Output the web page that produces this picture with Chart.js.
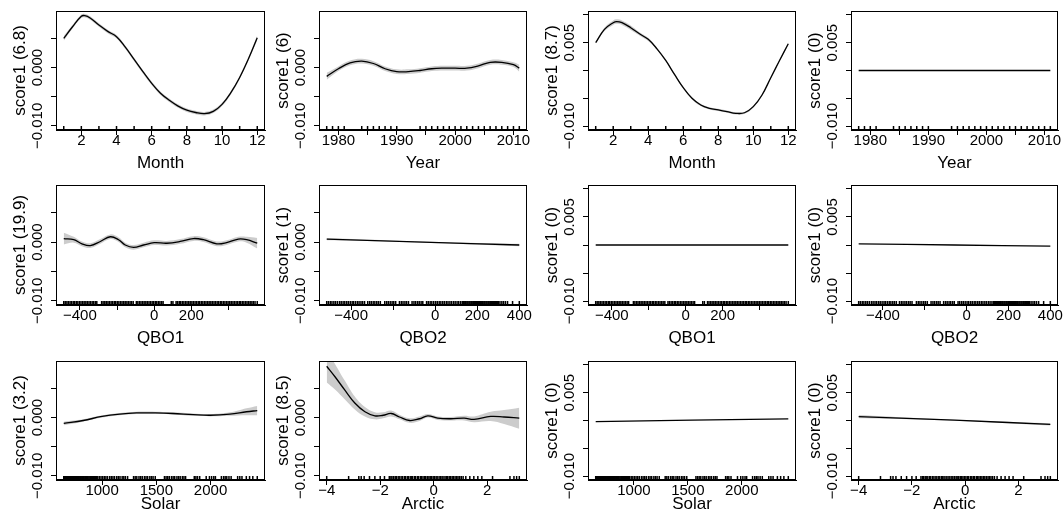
<!DOCTYPE html>
<html>
<head>
<meta charset="utf-8">
<script src="https://cdn.jsdelivr.net/npm/chart.js@4/dist/chart.umd.min.js"></script>
<style>
  html, body { margin: 0; padding: 0; background: #fff; overflow: hidden; width: 1064px; height: 521px; }
  .panel { position: absolute; }
</style>
</head>
<body>
<script>
// ---- data ----
const monthX = [1, 1.5, 2, 2.2, 2.5, 3, 3.5, 4, 4.5, 5, 5.5, 6, 6.5, 7, 7.5, 8, 8.5, 9, 9.5, 10, 10.5, 11, 11.5, 12];
const monthFitA = [0.0050, 0.0070, 0.0088, 0.0089, 0.0085, 0.0073, 0.0062, 0.0053, 0.0035, 0.0014, -0.0007, -0.0027, -0.0044, -0.0056, -0.0066, -0.0073, -0.0077, -0.0079, -0.0075, -0.0063, -0.0043, -0.0017, 0.0015, 0.0051];
const monthSeA = [0.0004, 0.0003, 0.0003, 0.0003, 0.0003, 0.0003, 0.0003, 0.0003, 0.0003, 0.0003, 0.0003, 0.0003, 0.0003, 0.0003, 0.0003, 0.0003, 0.0003, 0.0003, 0.0003, 0.0003, 0.0003, 0.0003, 0.0003, 0.0004];
const monthFitB = [0.0050, 0.0074, 0.0086, 0.0088, 0.0086, 0.0077, 0.0066, 0.0056, 0.0039, 0.0018, -0.0007, -0.0031, -0.0050, -0.0062, -0.0068, -0.0071, -0.0074, -0.0077, -0.0076, -0.0065, -0.0044, -0.0013, 0.0018, 0.0048];
const monthSeB = [0.0002, 0.0003, 0.0004, 0.0004, 0.0004, 0.0004, 0.0003, 0.0003, 0.0002, 0.0002, 0.0002, 0.0002, 0.0002, 0.0002, 0.0002, 0.0002, 0.0002, 0.0002, 0.0002, 0.0002, 0.0002, 0.0002, 0.0002, 0.0002];
const monthRug = [1, 2, 3, 4, 5, 6, 7, 8, 9, 10, 11, 12];

const yearX = [1978, 1980, 1982, 1984, 1986, 1988, 1990, 1992, 1994, 1996, 1998, 2000, 2002, 2004, 2006, 2008, 2010, 2011];
const yearFitA = [-0.0015, -0.0002, 0.0008, 0.0011, 0.0007, -0.0002, -0.0007, -0.0007, -0.0005, -0.0002, -0.0001, -0.0001, -0.0001, 0.0003, 0.0009, 0.0009, 0.0005, -0.0001];
const yearSeA = [0.0006, 0.0004, 0.0004, 0.0004, 0.0004, 0.0004, 0.0004, 0.0004, 0.0004, 0.0004, 0.0004, 0.0004, 0.0004, 0.0004, 0.0004, 0.0004, 0.0004, 0.0006];
const yearXB = [1978, 2011];
const yearFitB = [0, 0];
const yearRug = [1978, 1979, 1980, 1981, 1984, 1985, 1986, 1987, 1988, 1989, 1990, 1994, 1995, 1996, 1997, 1998, 1999, 2000, 2001, 2002, 2003, 2004, 2005, 2006, 2007, 2008, 2009, 2010, 2011];

const qbo1X = [-487, -433, -389, -344, -290, -236, -192, -156, -111, -57, 0, 68, 140, 211, 265, 337, 390, 453, 498, 555];
const qbo1FitA = [0.0006, 0.0004, -0.0003, -0.0006, 0.0001, 0.0009, 0.0004, -0.0005, -0.0009, -0.0005, -0.0001, -0.0002, 0.0001, 0.0006, 0.0004, -0.0003, -0.0001, 0.0005, 0.0004, -0.0002];
const qbo1SeA = [0.0010, 0.0005, 0.0004, 0.0004, 0.0004, 0.0004, 0.0004, 0.0004, 0.0004, 0.0004, 0.0004, 0.0004, 0.0004, 0.0004, 0.0004, 0.0004, 0.0004, 0.0004, 0.0005, 0.0009];
const qbo1XB = [-487, 555];
const qbo1FitB = [0, 0];
const qbo1Rug = [-487, -479, -470, -462, -453, -445, -436, -428, -419, -411, -402, -394, -385, -377, -368, -360, -351, -343, -334, -326, -317, -309, -283, -275, -266, -258, -249, -241, -232, -224, -215, -207, -198, -190, -181, -173, -164, -156, -147, -139, -130, -122, -113, -96, -88, -79, -71, -62, -54, -45, -37, -28, -20, -11, -3, 6, 14, 23, 31, 40, 48, 92, 101, 118, 126, 135, 143, 152, 160, 169, 177, 186, 194, 203, 211, 220, 228, 237, 245, 254, 262, 271, 279, 288, 296, 305, 313, 322, 330, 339, 347, 356, 364, 373, 381, 390, 398, 407, 415, 424, 432, 441, 449, 458, 466, 475, 483, 492, 500, 509, 517, 526, 534, 543, 555];

const qbo2X = [-516, -58, 400];
const qbo2FitA = [0.0005, 0.0000, -0.0005];
const qbo2SeA = [0.0002, 0.0001, 0.0002];
const qbo2FitB = [0.0002, 0.0000, -0.0002];
const qbo2Rug = [-516, -508, -499, -491, -482, -474, -465, -455, -447, -438, -430, -421, -413, -404, -395, -388, -379, -370, -362, -353, -345, -336, -321, -312, -304, -295, -287, -278, -270, -261, -240, -231, -223, -214, -205, -197, -188, -170, -161, -153, -144, -136, -127, -110, -101, -93, -84, -76, -67, -59, -41, -33, -24, -16, -7, 2, 10, 19, 27, 36, 44, 53, 61, 70, 78, 87, 95, 104, 112, 121, 129, 134, 138, 143, 147, 152, 156, 161, 165, 170, 174, 179, 183, 188, 192, 197, 201, 206, 210, 215, 219, 224, 228, 233, 237, 242, 246, 251, 255, 260, 264, 269, 273, 278, 282, 287, 291, 296, 300, 308, 317, 325, 334, 344, 368, 400];

const solarX = [646, 825, 1000, 1163, 1317, 1492, 1655, 1840, 2000, 2178, 2332, 2431];
const solarFitA = [-0.0010, -0.0005, 0.0002, 0.0006, 0.0008, 0.0008, 0.0007, 0.0005, 0.0004, 0.0006, 0.0010, 0.0012];
const solarSeA = [0.0003, 0.0002, 0.0002, 0.0002, 0.0002, 0.0002, 0.0002, 0.0002, 0.0002, 0.0003, 0.0006, 0.0008];
const solarXB = [646, 2431];
const solarFitB = [-0.0002, 0.0003];
const solarRug = [646, 652, 658, 664, 670, 676, 682, 688, 694, 700, 707, 713, 719, 725, 731, 737, 743, 749, 756, 762, 768, 775, 781, 787, 794, 800, 807, 813, 820, 827, 834, 841, 848, 856, 863, 871, 879, 887, 895, 903, 912, 921, 930, 940, 950, 960, 975, 990, 1005, 1020, 1035, 1050, 1070, 1085, 1100, 1115, 1135, 1150, 1165, 1185, 1200, 1215, 1235, 1290, 1305, 1320, 1340, 1355, 1370, 1390, 1405, 1420, 1440, 1455, 1470, 1490, 1575, 1590, 1605, 1620, 1640, 1655, 1670, 1690, 1705, 1720, 1740, 1755, 1770, 1850, 1865, 1880, 1900, 1960, 1990, 2010, 2030, 2045, 2100, 2120, 2135, 2150, 2170, 2190, 2250, 2270, 2290, 2330, 2360, 2390, 2431];

const arcticX = [-4.0, -3.69, -3.32, -2.95, -2.57, -2.2, -1.89, -1.59, -1.28, -0.9, -0.53, -0.22, 0.15, 0.64, 1.14, 1.51, 2.13, 2.63, 3.2];
const arcticFitA = [0.0088, 0.0070, 0.0047, 0.0025, 0.0010, 0.0003, 0.0004, 0.0007, 0.0001, -0.0005, -0.0002, 0.0003, -0.0001, -0.0002, -0.0001, -0.0003, 0.0002, 0.0001, -0.0001];
const arcticSeA = [0.0028, 0.0022, 0.0016, 0.0011, 0.0008, 0.0006, 0.0005, 0.0005, 0.0004, 0.0004, 0.0004, 0.0003, 0.0003, 0.0003, 0.0004, 0.0005, 0.0008, 0.0012, 0.0018];
const arcticXB = [-4.0, -0.4, 3.2];
const arcticFitB = [0.0007, 0.00005, -0.0007];
const arcticSeB = [0.0003, 0.0001, 0.0002];
const arcticRug = [-4.0, -3.18, -2.8, -2.71, -2.6, -2.4, -2.2, -2.0, -1.84, -1.66, -1.6, -1.56, -1.5, -1.44, -1.4, -1.33, -1.29, -1.22, -1.17, -1.1, -1.06, -0.99, -0.95, -0.88, -0.84, -0.79, -0.72, -0.68, -0.61, -0.57, -0.5, -0.46, -0.4, -0.34, -0.3, -0.24, -0.18, -0.13, -0.08, -0.02, 0.03, 0.09, 0.13, 0.2, 0.25, 0.31, 0.35, 0.42, 0.47, 0.52, 0.58, 0.63, 0.69, 0.74, 0.8, 0.86, 0.91, 0.97, 1.03, 1.1, 1.2, 1.35, 1.5, 1.65, 1.8, 2.2, 2.85, 3.0, 3.1, 3.2];

// axis ticks and which of them carry a label
const monthTicks = [2, 4, 6, 8, 10, 12];
const monthLabels = [2, 4, 6, 8, 10, 12];
const yearTicks = [1980, 1985, 1990, 1995, 2000, 2005, 2010];
const yearLabels = [1980, 1990, 2000, 2010];
const qboTicks = [-400, -200, 0, 200, 400];
const qbo1Labels = [-400, 0, 200];
const qbo2Labels = [-400, 0, 200, 400];
const solarTicks = [1000, 1500, 2000];
const solarLabels = [1000, 1500, 2000];
const arcticTicks = [-4, -2, 0, 2];
const arcticLabels = [-4, -2, 0, 2];

const yLimA = [-0.0107, 0.0097];
const yTicksA = [-0.010, -0.005, 0, 0.005];
const yLabelsA = [-0.010, 0];
const yLimB = [-0.0107, 0.0107];
const yTicksB = [-0.010, -0.005, 0, 0.005, 0.010];
const yLabelsB = [-0.010, 0.005];

const yTitles = ['score1 (6.8)', 'score1 (6)', 'score1 (8.7)', 'score1 (0)',
                 'score1 (19.9)', 'score1 (1)', 'score1 (0)', 'score1 (0)',
                 'score1 (3.2)', 'score1 (8.5)', 'score1 (0)', 'score1 (0)'];

// ---- layout ----
const boxLeft = [56, 319, 588, 851];
const boxRight = [265, 527, 796, 1058];
const boxTop = [11, 185, 361];
const boxBottom = [130, 305, 480];
const xAxisH = [44, 44, 35];
const Y_AXIS_W = 56, PAD_TOP = 11, PAD_RIGHT = 12;
const BAND = 'rgb(204,204,204)';

Chart.defaults.font.family = "'Liberation Sans', Arial, Helvetica, sans-serif";
Chart.defaults.color = '#000';

const panels = [
  { x: monthX, fit: monthFitA, se: monthSeA, rug: monthRug, ticks: monthTicks, labels: monthLabels, xTitle: 'Month', side: 'A' },
  { x: yearX, fit: yearFitA, se: yearSeA, rug: yearRug, ticks: yearTicks, labels: yearLabels, xTitle: 'Year', side: 'A' },
  { x: monthX, fit: monthFitB, se: monthSeB, rug: monthRug, ticks: monthTicks, labels: monthLabels, xTitle: 'Month', side: 'B' },
  { x: yearXB, fit: yearFitB, se: null, rug: yearRug, ticks: yearTicks, labels: yearLabels, xTitle: 'Year', side: 'B' },
  { x: qbo1X, fit: qbo1FitA, se: qbo1SeA, rug: qbo1Rug, ticks: qboTicks, labels: qbo1Labels, xTitle: 'QBO1', side: 'A' },
  { x: qbo2X, fit: qbo2FitA, se: qbo2SeA, rug: qbo2Rug, ticks: qboTicks, labels: qbo2Labels, xTitle: 'QBO2', side: 'A' },
  { x: qbo1XB, fit: qbo1FitB, se: null, rug: qbo1Rug, ticks: qboTicks, labels: qbo1Labels, xTitle: 'QBO1', side: 'B' },
  { x: qbo2X, fit: qbo2FitB, se: null, rug: qbo2Rug, ticks: qboTicks, labels: qbo2Labels, xTitle: 'QBO2', side: 'B' },
  { x: solarX, fit: solarFitA, se: solarSeA, rug: solarRug, ticks: solarTicks, labels: solarLabels, xTitle: 'Solar', side: 'A' },
  { x: arcticX, fit: arcticFitA, se: arcticSeA, rug: arcticRug, ticks: arcticTicks, labels: arcticLabels, xTitle: 'Arctic', side: 'A' },
  { x: solarXB, fit: solarFitB, se: null, rug: solarRug, ticks: solarTicks, labels: solarLabels, xTitle: 'Solar', side: 'B' },
  { x: arcticXB, fit: arcticFitB, se: arcticSeB, rug: arcticRug, ticks: arcticTicks, labels: arcticLabels, xTitle: 'Arctic', side: 'B' },
];

const minus = v => (v < 0 ? '\u2212' : '') + Math.abs(v);
const fmtY = v => (v < 0 ? '\u2212' : '') + Math.abs(v).toFixed(3);

// the closed box round the plot region
const boxPlugin = {
  id: 'box',
  afterDatasetsDraw(chart) {
    const { ctx, chartArea: a } = chart;
    ctx.save();
    ctx.strokeStyle = '#000';
    ctx.lineWidth = 1;
    ctx.strokeRect(Math.round(a.left) + 0.5, Math.round(a.top) + 0.5,
                   Math.round(a.right - a.left) - 1, Math.round(a.bottom - a.top) - 1);
    ctx.restore();
  }
};

panels.forEach((p, i) => {
  const row = Math.floor(i / 4), col = i % 4;
  const yLim = p.side === 'A' ? yLimA : yLimB;
  const yTicks = p.side === 'A' ? yTicksA : yTicksB;
  const yLabels = p.side === 'A' ? yLabelsA : yLabelsB;
  const xMin = p.x[0], xMax = p.x[p.x.length - 1];
  const ext = (xMax - xMin) * 0.04;

  const left = boxLeft[col] - Y_AXIS_W;
  const top = boxTop[row] - PAD_TOP;
  const w = boxRight[col] + PAD_RIGHT - left;
  const h = boxBottom[row] + xAxisH[row] - top;

  const div = document.createElement('div');
  div.className = 'panel';
  div.style.left = left + 'px';
  div.style.top = top + 'px';
  const canvas = document.createElement('canvas');
  canvas.width = w; canvas.height = h;
  canvas.style.width = w + 'px'; canvas.style.height = h + 'px';
  div.appendChild(canvas);
  document.body.appendChild(div);

  // Chart.js paints the first dataset last, so the fitted line goes first
  const datasets = [];
  datasets.push({ data: p.x.map((x, k) => ({ x, y: p.fit[k] })), borderColor: '#000', borderWidth: 1.3, pointRadius: 0, fill: false, tension: 0.4, clip: 0 });
  // rug along the bottom of the plot region
  datasets.push({ data: p.rug.map(x => ({ x, y: yLim[0] })), showLine: false, pointStyle: 'line', pointRotation: 90, pointRadius: 4, pointBorderColor: '#000', pointBorderWidth: 1.5, clip: 0 });
  if (p.se) {
    datasets.push({ data: p.x.map((x, k) => ({ x, y: p.fit[k] - p.se[k] })), borderWidth: 0, pointRadius: 0, fill: false, tension: 0.4, clip: 0 });
    datasets.push({ data: p.x.map((x, k) => ({ x, y: p.fit[k] + p.se[k] })), borderWidth: 0, pointRadius: 0, fill: '-1', backgroundColor: BAND, tension: 0.4, clip: 0 });
  }

  new Chart(canvas, {
    type: 'line',
    data: { datasets },
    options: {
      responsive: false,
      animation: false,
      events: [],
      layout: { padding: { left: 0, top: PAD_TOP, right: PAD_RIGHT, bottom: 0 } },
      plugins: { legend: { display: false }, tooltip: { enabled: false } },
      scales: {
        x: {
          type: 'linear',
          min: xMin - ext, max: xMax + ext,
          afterBuildTicks: s => { s.ticks = p.ticks.map(v => ({ value: v })); },
          afterFit: s => { s.height = xAxisH[row]; },
          ticks: { autoSkip: false, maxRotation: 0, padding: -3, font: { size: 15 },
                   callback: v => p.labels.includes(v) ? minus(v) : '' },
          grid: { drawOnChartArea: false, drawTicks: true, tickLength: 5, color: '#000' },
          border: { display: true, color: '#000' },
          title: { display: true, text: p.xTitle, font: { size: 17 }, padding: { top: 0, bottom: 0 } }
        },
        y: {
          type: 'linear',
          min: yLim[0], max: yLim[1],
          afterBuildTicks: s => { s.ticks = yTicks.map(v => ({ value: v })); },
          afterFit: s => { s.width = Y_AXIS_W; },
          ticks: { autoSkip: false, minRotation: 90, maxRotation: 90, crossAlign: 'center', padding: -10,
                   font: { size: 15 }, callback: v => yLabels.includes(v) ? fmtY(v) : '' },
          grid: { drawOnChartArea: false, drawTicks: true, tickLength: 5, color: '#000' },
          border: { display: true, color: '#000' },
          title: { display: true, text: yTitles[i], font: { size: 17 }, padding: { top: 10, bottom: 0 } }
        }
      }
    },
    plugins: [boxPlugin]
  });
});
</script>
</body>
</html>
